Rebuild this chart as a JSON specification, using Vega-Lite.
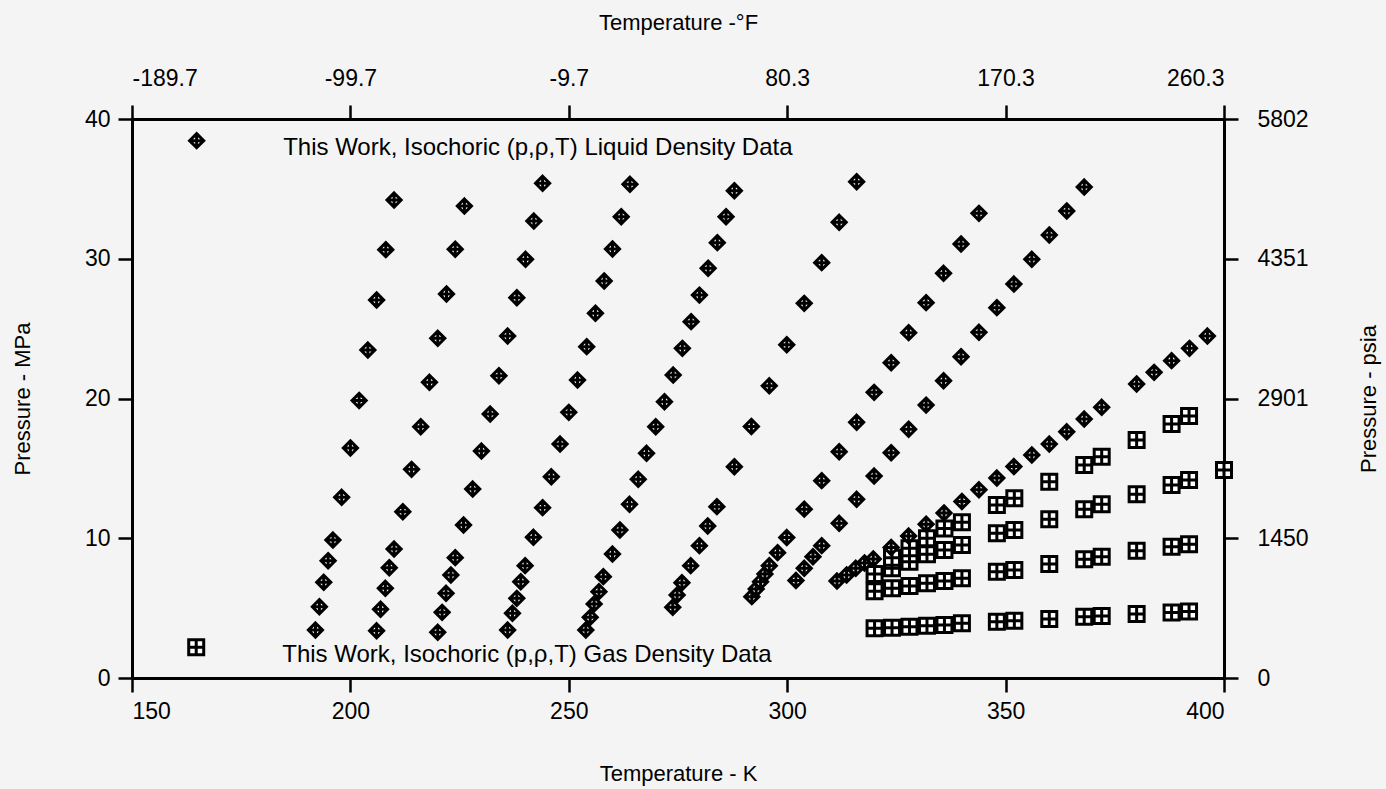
{
  "$schema": "https://vega.github.io/schema/vega-lite/v6.json",
  "width": 1092,
  "height": 559,
  "autosize": {"type": "none"},
  "padding": {"left": 132, "top": 119, "right": 162, "bottom": 111},
  "background": "#f4f4f4",
  "config": {
    "view": {"stroke": null},
    "font": "Liberation Sans",
    "axis": {
      "domainColor": "black", "domainWidth": 3, "tickColor": "black", "tickWidth": 2.5, "tickSize": 14,
      "labelColor": "black", "titleColor": "black", "labelFontSize": 23, "titleFontSize": 22,
      "labelFont": "Liberation Sans", "titleFont": "Liberation Sans", "titleFontWeight": "normal", "grid": false
    }
  },
  "datasets": {
    "gas": [
      {"T": 164.7, "p": 2.2},
      {"T": 320, "p": 3.56}, {"T": 324, "p": 3.60}, {"T": 328, "p": 3.67}, {"T": 332, "p": 3.74}, {"T": 336, "p": 3.79}, {"T": 340, "p": 3.91}, {"T": 348, "p": 4.03}, {"T": 352, "p": 4.10}, {"T": 360, "p": 4.22}, {"T": 368, "p": 4.39}, {"T": 372, "p": 4.44}, {"T": 380, "p": 4.58}, {"T": 388, "p": 4.68}, {"T": 392, "p": 4.75},
      {"T": 320, "p": 6.2}, {"T": 324, "p": 6.42}, {"T": 328, "p": 6.58}, {"T": 332, "p": 6.78}, {"T": 336, "p": 6.94}, {"T": 340, "p": 7.13}, {"T": 348, "p": 7.61}, {"T": 352, "p": 7.73}, {"T": 360, "p": 8.16}, {"T": 368, "p": 8.49}, {"T": 372, "p": 8.68}, {"T": 380, "p": 9.11}, {"T": 388, "p": 9.40}, {"T": 392, "p": 9.57},
      {"T": 320, "p": 7.45}, {"T": 324, "p": 7.85}, {"T": 328, "p": 8.32}, {"T": 332, "p": 8.85}, {"T": 336, "p": 9.16}, {"T": 340, "p": 9.52}, {"T": 348, "p": 10.35}, {"T": 352, "p": 10.59}, {"T": 360, "p": 11.36}, {"T": 368, "p": 12.07}, {"T": 372, "p": 12.43}, {"T": 380, "p": 13.15}, {"T": 388, "p": 13.81}, {"T": 392, "p": 14.17}, {"T": 400, "p": 14.88},
      {"T": 324, "p": 8.6}, {"T": 328, "p": 9.28}, {"T": 332, "p": 10.0}, {"T": 336, "p": 10.7}, {"T": 340, "p": 11.15}, {"T": 348, "p": 12.38}, {"T": 352, "p": 12.86}, {"T": 360, "p": 14.05}, {"T": 368, "p": 15.24}, {"T": 372, "p": 15.84}, {"T": 380, "p": 17.03}, {"T": 388, "p": 18.18}, {"T": 392, "p": 18.75}
    ],
    "liquid": [
      {"T": 164.8, "p": 38.45},
      {"T": 192.0, "p": 3.43}, {"T": 192.9, "p": 5.10}, {"T": 193.9, "p": 6.85}, {"T": 194.9, "p": 8.39}, {"T": 196.0, "p": 9.87}, {"T": 198.0, "p": 12.93}, {"T": 200.0, "p": 16.46}, {"T": 202.0, "p": 19.86}, {"T": 204.0, "p": 23.47}, {"T": 206.0, "p": 27.05}, {"T": 208.1, "p": 30.65}, {"T": 210.0, "p": 34.20},
      {"T": 206.0, "p": 3.38}, {"T": 206.9, "p": 4.92}, {"T": 208.0, "p": 6.42}, {"T": 208.9, "p": 7.89}, {"T": 210.0, "p": 9.23}, {"T": 212.0, "p": 11.90}, {"T": 214.0, "p": 14.93}, {"T": 216.1, "p": 17.98}, {"T": 218.1, "p": 21.16}, {"T": 220.0, "p": 24.31}, {"T": 222.0, "p": 27.48}, {"T": 224.0, "p": 30.68}, {"T": 226.1, "p": 33.77},
      {"T": 220.0, "p": 3.27}, {"T": 221.0, "p": 4.70}, {"T": 221.9, "p": 6.06}, {"T": 223.0, "p": 7.37}, {"T": 224.0, "p": 8.61}, {"T": 225.9, "p": 10.95}, {"T": 228.0, "p": 13.52}, {"T": 230.0, "p": 16.24}, {"T": 232.0, "p": 18.89}, {"T": 234.0, "p": 21.63}, {"T": 236.0, "p": 24.47}, {"T": 238.1, "p": 27.21}, {"T": 240.1, "p": 29.96}, {"T": 242.0, "p": 32.70}, {"T": 244.0, "p": 35.40},
      {"T": 236.0, "p": 3.43}, {"T": 237.1, "p": 4.63}, {"T": 238.1, "p": 5.70}, {"T": 239.0, "p": 6.89}, {"T": 240.0, "p": 8.04}, {"T": 241.9, "p": 10.07}, {"T": 244.0, "p": 12.19}, {"T": 246.0, "p": 14.40}, {"T": 248.0, "p": 16.74}, {"T": 250.0, "p": 19.01}, {"T": 252.0, "p": 21.32}, {"T": 254.1, "p": 23.71}, {"T": 256.1, "p": 26.10}, {"T": 258.1, "p": 28.41}, {"T": 260.0, "p": 30.70}, {"T": 262.0, "p": 33.01}, {"T": 264.0, "p": 35.33},
      {"T": 253.9, "p": 3.43}, {"T": 254.9, "p": 4.34}, {"T": 255.8, "p": 5.30}, {"T": 256.9, "p": 6.18}, {"T": 257.9, "p": 7.25}, {"T": 260.0, "p": 8.87}, {"T": 261.7, "p": 10.59}, {"T": 263.9, "p": 12.43}, {"T": 265.9, "p": 14.22}, {"T": 267.8, "p": 16.08}, {"T": 269.9, "p": 17.98}, {"T": 271.9, "p": 19.77}, {"T": 273.9, "p": 21.68}, {"T": 276.0, "p": 23.59}, {"T": 278.0, "p": 25.50}, {"T": 279.9, "p": 27.40}, {"T": 281.9, "p": 29.32}, {"T": 284.0, "p": 31.15}, {"T": 286.0, "p": 33.01}, {"T": 287.9, "p": 34.87},
      {"T": 273.8, "p": 5.06}, {"T": 274.8, "p": 5.94}, {"T": 275.9, "p": 6.82}, {"T": 277.9, "p": 8.04}, {"T": 279.9, "p": 9.47}, {"T": 281.8, "p": 10.88}, {"T": 283.9, "p": 12.26}, {"T": 287.9, "p": 15.12}, {"T": 291.8, "p": 18.00}, {"T": 295.9, "p": 20.91}, {"T": 299.9, "p": 23.85}, {"T": 303.9, "p": 26.81}, {"T": 307.9, "p": 29.72}, {"T": 311.9, "p": 32.61}, {"T": 315.9, "p": 35.51},
      {"T": 291.9, "p": 5.82}, {"T": 292.9, "p": 6.37}, {"T": 293.9, "p": 6.89}, {"T": 294.9, "p": 7.44}, {"T": 295.9, "p": 8.04}, {"T": 297.8, "p": 8.97}, {"T": 299.9, "p": 10.05}, {"T": 303.9, "p": 12.08}, {"T": 307.9, "p": 14.12}, {"T": 311.9, "p": 16.19}, {"T": 315.9, "p": 18.30}, {"T": 319.9, "p": 20.44}, {"T": 323.8, "p": 22.56}, {"T": 327.8, "p": 24.71}, {"T": 331.8, "p": 26.86}, {"T": 335.8, "p": 28.96}, {"T": 339.8, "p": 31.06}, {"T": 343.9, "p": 33.25},
      {"T": 302.0, "p": 6.98}, {"T": 303.9, "p": 7.85}, {"T": 305.9, "p": 8.68}, {"T": 307.9, "p": 9.47}, {"T": 311.9, "p": 11.07}, {"T": 315.9, "p": 12.79}, {"T": 319.9, "p": 14.45}, {"T": 323.8, "p": 16.12}, {"T": 327.8, "p": 17.80}, {"T": 331.8, "p": 19.53}, {"T": 335.8, "p": 21.27}, {"T": 339.8, "p": 22.99}, {"T": 343.9, "p": 24.74}, {"T": 348.0, "p": 26.50}, {"T": 351.9, "p": 28.19}, {"T": 356.0, "p": 29.96}, {"T": 360.0, "p": 31.70}, {"T": 364.0, "p": 33.42}, {"T": 368.0, "p": 35.13},
      {"T": 311.4, "p": 6.94}, {"T": 313.6, "p": 7.37}, {"T": 315.7, "p": 7.85}, {"T": 317.7, "p": 8.23}, {"T": 319.7, "p": 8.52}, {"T": 323.8, "p": 9.34}, {"T": 327.8, "p": 10.16}, {"T": 331.8, "p": 11.01}, {"T": 335.9, "p": 11.81}, {"T": 340.0, "p": 12.63}, {"T": 343.9, "p": 13.47}, {"T": 348.0, "p": 14.31}, {"T": 351.9, "p": 15.13}, {"T": 356.0, "p": 15.96}, {"T": 360.0, "p": 16.74}, {"T": 364.0, "p": 17.62}, {"T": 368.0, "p": 18.53}, {"T": 372.0, "p": 19.37}, {"T": 380.0, "p": 21.04}, {"T": 384.0, "p": 21.87}, {"T": 388.0, "p": 22.71}, {"T": 392.1, "p": 23.59}, {"T": 396.2, "p": 24.47}
    ],
    "notes": [
      {"T": 184.6, "p": 37.94, "label": "This Work, Isochoric (p,ρ,T) Liquid Density Data"},
      {"T": 184.4, "p": 1.65, "label": "This Work, Isochoric (p,ρ,T) Gas Density Data"}
    ]
  },
  "layer": [
    {
      "data": {"name": "gas"},
      "mark": {"type": "point", "shape": "M-1,-1H1V1H-1Z M0,-1V1 M-1,0H1", "size": 225, "filled": false, "fill": "white", "fillOpacity": 1, "stroke": "black", "strokeWidth": 3, "opacity": 1},
      "encoding": {
        "x": {"field": "T", "type": "quantitative", "scale": {"domain": [150, 400], "nice": false, "zero": false},
          "axis": {"orient": "bottom", "values": [150, 200, 250, 300, 350, 400], "title": "Temperature - K", "labelPadding": 8, "titlePadding": 40}},
        "y": {"field": "p", "type": "quantitative", "scale": {"domain": [0, 40], "nice": false, "zero": false},
          "axis": {"orient": "left", "values": [0, 10, 20, 30, 40], "title": "Pressure - MPa", "labelPadding": 8, "titlePadding": 50}}
      }
    },
    {
      "data": {"name": "liquid"},
      "mark": {"type": "point", "shape": "M0,-1L1,0L0,1L-1,0Z M0,-1V1 M-1,0H1", "size": 200, "filled": false, "fill": "white", "fillOpacity": 1, "stroke": "black", "strokeWidth": 3, "opacity": 1},
      "encoding": {
        "x": {"field": "T", "type": "quantitative", "scale": {"domain": [150, 400], "nice": false, "zero": false},
          "axis": {"orient": "top", "values": [150, 200, 250, 300, 350, 400], "title": "Temperature -°F", "labelPadding": 15, "titlePadding": 33,
            "labelExpr": "(((datum.value-273.15)*1.8+32) < 0 ? '-' : '') + format(abs((datum.value-273.15)*1.8+32), '.1f')"}},
        "y": {"field": "p", "type": "quantitative", "scale": {"domain": [0, 40], "nice": false, "zero": false},
          "axis": {"orient": "right", "values": [0, 10, 20, 30, 40], "title": "Pressure - psia", "titleAngle": 270, "labelPadding": 19, "titlePadding": 72,
            "labelExpr": "format(datum.value*145.0377, '.0f')"}}
      }
    },
    {
      "data": {"name": "notes"},
      "mark": {"type": "text", "align": "left", "baseline": "middle", "fontSize": 24, "font": "Liberation Sans", "color": "black"},
      "encoding": {
        "x": {"field": "T", "type": "quantitative", "axis": null},
        "y": {"field": "p", "type": "quantitative", "axis": null},
        "text": {"field": "label"}
      }
    }
  ],
  "resolve": {"axis": {"x": "independent", "y": "independent"}}
}
